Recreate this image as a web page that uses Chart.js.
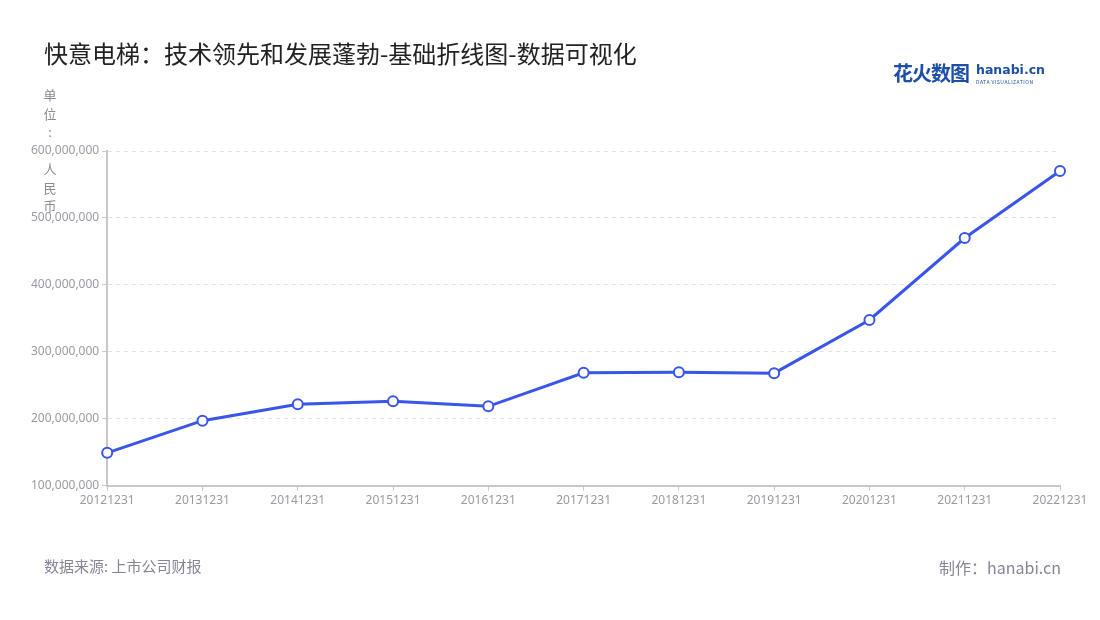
<!DOCTYPE html>
<html>
<head>
<meta charset="utf-8">
<script src="https://cdn.jsdelivr.net/npm/chart.js@4/dist/chart.umd.min.js"></script>
<style>
  body { margin: 0; background: #fff; font-family: "Noto Sans CJK SC", "Noto Sans", sans-serif; }
  #wrap { position: relative; width: 1100px; height: 620px; }
  #chart { position: absolute; left: 0; top: 0; }
  .title { position: absolute; left: 44px; top: 35px; font-size: 24px; color: #222; }
  .unit { position: absolute; left: 43px; top: 86px; width: 14px; font-size: 13px; line-height: 18.5px; color: #8a8a99; text-align: center; }
  .source { position: absolute; left: 44px; top: 555px; font-size: 15px; color: #858596; }
  .maker { position: absolute; right: 39px; top: 555px; font-size: 16px; color: #858596; }
  .logo { position: absolute; left: 893px; top: 58px; color: #1d4fa8; }
  .logo .cn { font-size: 20px; font-weight: bold; letter-spacing: -1px; }
  .logo .en { position: absolute; left: 83px; top: 4px; font-size: 12.5px; font-weight: bold; font-family: "DejaVu Sans", sans-serif; white-space: nowrap; }
  .logo .sub { position: absolute; left: 83px; top: 20px; font-size: 5px; white-space: nowrap; letter-spacing: 0.5px; }
</style>
</head>
<body>
<div id="wrap">
  <canvas id="chart" width="1100" height="620"></canvas>
  <div class="title">快意电梯：技术领先和发展蓬勃-基础折线图-数据可视化</div>
  <div class="unit">单<br>位<br>:<br><br>人<br>民<br>币</div>
  <div class="logo"><span class="cn">花火数图</span><span class="en">hanabi.cn</span><span class="sub">DATA VISUALIZATION</span></div>
  <div class="source">数据来源: 上市公司财报</div>
  <div class="maker">制作：hanabi.cn</div>
</div>
<script>
// 报告期
const years = ['20121231', '20131231', '20141231', '20151231', '20161231', '20171231',
               '20181231', '20191231', '20201231', '20211231', '20221231'];
// 营业收入（人民币）
const revenue = [149000000, 197000000, 221500000, 226000000, 218500000, 268500000,
                 269500000, 268000000, 347500000, 470000000, 570000000];
const yMin = 100000000;
const yMax = 600000000;
const yStep = 100000000;

const lineColor = '#3a55ec';
const tickColor = '#9a9aa5';

new Chart(document.getElementById('chart'), {
    type: 'line',
    data: {
        labels: years,
        datasets: [{
            data: revenue,
            borderColor: lineColor,
            borderWidth: 3,
            pointRadius: 5,
            pointBorderWidth: 2,
            pointBackgroundColor: '#fff',
            pointBorderColor: lineColor,
            tension: 0
        }]
    },
    options: {
        responsive: false,
        animation: false,
        layout: {
            padding: { left: 28, right: 40, top: 151, bottom: 109 }
        },
        plugins: {
            legend: { display: false },
            tooltip: { enabled: false }
        },
        scales: {
            x: {
                offset: false,
                grid: {
                    display: true,
                    drawOnChartArea: false,
                    drawTicks: true,
                    tickLength: 5,
                    color: '#c8c8c8'
                },
                border: { color: '#c8c8c8', width: 2 },
                ticks: {
                    color: tickColor,
                    font: { size: 12, family: 'Noto Sans' },
                    maxRotation: 0,
                    autoSkip: false,
                    padding: 3
                }
            },
            y: {
                min: yMin,
                max: yMax,
                grid: {
                    color: '#e3e3e3',
                    tickLength: 5,
                    tickColor: '#c8c8c8',
                    drawTicks: true
                },
                // in v4 border.dash dashes the grid lines
                border: { color: '#c8c8c8', width: 2, dash: [4, 4] },
                ticks: {
                    stepSize: yStep,
                    color: tickColor,
                    font: { size: 12, family: 'Noto Sans' },
                    padding: 3,
                    callback: v => v.toLocaleString('en-US')
                }
            }
        }
    }
});
</script>
</body>
</html>
